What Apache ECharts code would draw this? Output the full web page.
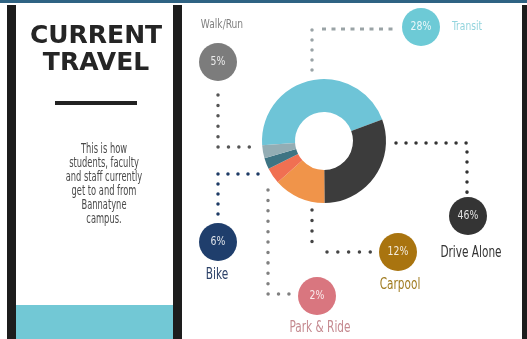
<!DOCTYPE html>
<html>
<head>
<meta charset="utf-8">
<script src="https://cdn.jsdelivr.net/npm/echarts@6/dist/echarts.min.js"></script>
<style>
html,body{margin:0;padding:0;background:#fff;}
#chart{width:527px;height:339px;}
</style>
</head>
<body>
<div id="chart"></div>
<script>
// ---- data ----
const categories = ['Transit', 'Drive Alone', 'Carpool', 'Park & Ride', 'Bike', 'Walk/Run'];
const shares = [28, 46, 12, 2, 6, 5];                 // printed percentages in the bubbles
const ringShares = [45.5, 30.5, 13.5, 4.2, 2.9, 3.4]; // arc sizes as drawn in the donut
const titleLines = ['CURRENT', 'TRAVEL'];
const bodyLines = ['This is how', 'students, faculty', 'and staff currently', 'get to and from', 'Bannatyne', 'campus.'];

// ---- styles / layout ----
const ringColors = ['#6ec4d7', '#3c3c3c', '#f0944a', '#f07052', '#3e7483', '#93adb4'];
const bubbleColors = ['#6dcad6', '#343434', '#a9740f', '#d9767f', '#1f3e6c', '#7c7c7c'];
const nameColors = ['#93d4dd', '#333333', '#a07b20', '#c58a90', '#2c4168', '#808080'];
const bubbleLayout = [
  {cx: 421, cy: 27, nx: 467, ny: 27},
  {cx: 468, cy: 216, nx: 471, ny: 253},
  {cx: 398, cy: 252, nx: 400, ny: 285},
  {cx: 317, cy: 296, nx: 320, ny: 328},
  {cx: 218, cy: 242, nx: 217, ny: 275},
  {cx: 218, cy: 62, nx: 222, ny: 25}
];
const nameSizes = [13, 15, 15, 15, 15, 13];
const connectors = [
  {pts: [[312, 70], [312, 29]], color: '#9aa3a6', dash: [0.01, 10]},
  {pts: [[322, 29], [398, 29]], color: '#9aa3a6', dash: [4, 5.5], cap: 'butt', w: 3},
  {pts: [[396, 143], [467, 143], [467, 196]], color: '#333', dash: [0.01, 10]},
  {pts: [[312, 210], [312, 252]], color: '#444', dash: [0.01, 10.5]},
  {pts: [[327, 252], [371, 252]], color: '#444', dash: [0.01, 10.8]},
  {pts: [[268, 190], [268, 294], [289, 294]], color: '#808080', dash: [0.01, 10.4]},
  {pts: [[258, 174], [218, 174], [218, 215]], color: '#1e3b66', dash: [0.01, 10]},
  {pts: [[218, 95], [218, 147], [250, 147]], color: '#555', dash: [0.01, 10.4]}
];
const condensed = '"Liberation Sans Narrow", "DejaVu Sans Condensed", "Roboto", sans-serif';

const chart = echarts.init(document.getElementById('chart'), null, {renderer: 'canvas'});

const graphics = [];
// frame
graphics.push({type: 'rect', shape: {x: 0, y: 0, width: 527, height: 3}, style: {fill: '#2f6383'}, z: 1});
graphics.push({type: 'rect', shape: {x: 7, y: 5, width: 9, height: 334}, style: {fill: '#1d1d1d'}, z: 1});
graphics.push({type: 'rect', shape: {x: 173, y: 5, width: 9, height: 334}, style: {fill: '#1d1d1d'}, z: 1});
graphics.push({type: 'rect', shape: {x: 522, y: 5, width: 5, height: 334}, style: {fill: '#1d1d1d'}, z: 1});
graphics.push({type: 'rect', shape: {x: 16, y: 305, width: 157, height: 34}, style: {fill: '#72c8d5'}, z: 1});
// title
titleLines.forEach((t, i) => {
  graphics.push({type: 'text', x: 96, y: 36 + i * 27, z: 5,
    style: {text: t, fill: '#252525', font: 'bold 25px "DejaVu Sans", sans-serif', align: 'center', verticalAlign: 'middle'}});
});
graphics.push({type: 'rect', shape: {x: 55, y: 101, width: 82, height: 4}, style: {fill: '#222'}, z: 5});
bodyLines.forEach((t, i) => {
  graphics.push({type: 'text', x: 104, y: 149 + i * 14, scaleX: 0.66, z: 5,
    style: {text: t, fill: '#4a4a4a', font: '14px ' + condensed, align: 'center', verticalAlign: 'middle'}});
});
// connectors
connectors.forEach(c => {
  graphics.push({type: 'polyline', z: 3, shape: {points: c.pts},
    style: {stroke: c.color, lineWidth: c.w || 3.5, lineDash: c.dash, lineCap: c.cap || 'round', fill: null}});
});
// bubbles
categories.forEach((name, i) => {
  const L = bubbleLayout[i];
  graphics.push({type: 'circle', z: 4, shape: {cx: L.cx, cy: L.cy, r: 19}, style: {fill: bubbleColors[i]}});
  graphics.push({type: 'text', z: 6, x: L.cx, y: L.cy, scaleX: 0.8,
    style: {text: shares[i] + '%', fill: 'rgba(255,255,255,0.85)', font: '13px ' + condensed, align: 'center', verticalAlign: 'middle'}});
  graphics.push({type: 'text', z: 6, x: L.nx, y: L.ny, scaleX: 0.78,
    style: {text: name, fill: nameColors[i], font: nameSizes[i] + 'px ' + condensed, align: 'center', verticalAlign: 'middle'}});
});

chart.setOption({
  animation: false,
  backgroundColor: '#ffffff',
  graphic: {elements: graphics},
  series: [{
    type: 'pie',
    center: [324, 141],
    radius: [29, 62],
    startAngle: 184,
    clockwise: true,
    z: 2,
    label: {show: false},
    labelLine: {show: false},
    emphasis: {disabled: true},
    data: categories.map((c, i) => ({name: c, value: ringShares[i], itemStyle: {color: ringColors[i]}}))
  }]
});
</script>
</body>
</html>
